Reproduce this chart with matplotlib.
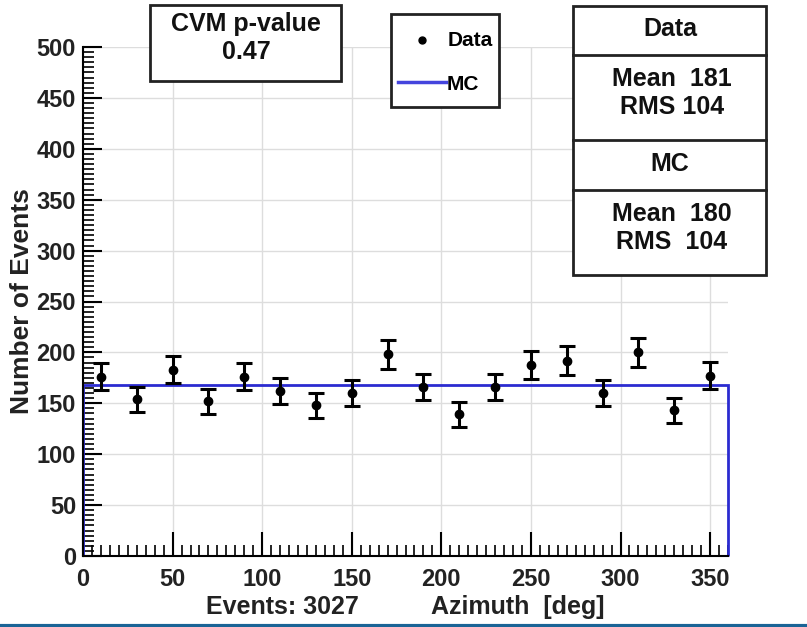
import matplotlib.pyplot as plt
import matplotlib.patches as patches
import numpy as np

plt.rcParams['font.family'] = ['Liberation Sans', 'DejaVu Sans']
plt.rcParams['font.weight'] = 'bold'

bin_edges = np.arange(0, 361, 20)
bin_centers = bin_edges[:-1] + 10
data_counts = [176, 154, 183, 152, 176, 162, 148, 160, 198,
               166, 139, 166, 188, 192, 160, 200, 143, 177]
mc_counts = [168, 168, 168, 168, 168, 168, 168, 168, 168,
             168, 168, 168, 168, 168, 168, 168, 168, 168]
n_events = 3027
cvm_pvalue = 0.47
data_mean, data_rms = 181, 104
mc_mean, mc_rms = 180, 104

W, H = 807, 627
fig = plt.figure(figsize=(W / 100, H / 100), dpi=100)
ax = fig.add_axes([83 / W, 1 - 556 / H, (728 - 83) / W, (556 - 47) / H])

ax.stairs(mc_counts, bin_edges, color='#2b2bd0', lw=2, baseline=0, label='MC',
          zorder=3, clip_on=False)
ax.errorbar(bin_centers, data_counts, yerr=np.sqrt(data_counts), fmt='o', color='black',
            ms=6, elinewidth=2.2, capsize=6, capthick=2.2, zorder=4, label='Data')

ax.set_xlim(0, 360)
ax.set_ylim(0, 500)
ax.set_xticks(np.arange(0, 351, 50))
ax.set_yticks(np.arange(0, 501, 50))
ax.set_xticks(np.arange(0, 361, 5), minor=True)
ax.set_yticks(np.arange(0, 501, 5), minor=True)
ax.grid(True, which='major', color='#dddddd', lw=1)
ax.set_axisbelow(True)
for s in ['top', 'right']:
    ax.spines[s].set_visible(False)
for s in ['left', 'bottom']:
    ax.spines[s].set_linewidth(1.5)
    ax.spines[s].set_zorder(5)
ax.tick_params(which='major', direction='in', length=17, width=1.5, labelsize=17, pad=5)
ax.tick_params(axis='x', which='major', pad=9)
ax.tick_params(which='minor', direction='in', length=8, width=1.2)
ax.tick_params(axis='y', which='major', length=14)
for lab in ax.get_xticklabels() + ax.get_yticklabels():
    lab.set_fontweight('bold')
    lab.set_color('#222222')
ax.set_ylabel('Number of Events', fontsize=19, fontweight='bold', labelpad=2,
              color='#222222')

fig.text(282 / W, 1 - 607 / H, 'Events: %d' % n_events, ha='center', va='center',
         fontsize=18, fontweight='bold', color='#222222')
fig.text(518 / W, 1 - 607 / H, 'Azimuth  [deg]', ha='center', va='center',
         fontsize=18, fontweight='bold', color='#222222')


def box(x0, y0, x1, y1):
    fig.patches.append(patches.Rectangle((x0 / W, 1 - y1 / H), (x1 - x0) / W, (y1 - y0) / H,
                                         transform=fig.transFigure, facecolor='white',
                                         edgecolor='#222222', lw=2, zorder=5))


def txt(x, y, s, size=18):
    fig.text(x / W, 1 - y / H, s, ha='center', va='center', fontsize=size,
             fontweight='bold', color='#111111', zorder=6, linespacing=1.25)


# CVM box
box(150, 5, 341, 81)
txt(246, 38, 'CVM p-value\n%.2f' % cvm_pvalue)

# legend box
box(391, 14, 499, 107)
fig.lines.append(plt.Line2D([422 / W], [1 - 40 / H], marker='o', ms=5, color='black',
                            transform=fig.transFigure, zorder=6))
fig.text(448 / W, 1 - 41 / H, 'Data', ha='left', va='center', fontsize=15,
         fontweight='bold', zorder=6)
fig.lines.append(plt.Line2D([398 / W, 446 / W], [1 - 82 / H, 1 - 82 / H], color='#4444dd',
                            lw=2.5, transform=fig.transFigure, zorder=6))
fig.text(447 / W, 1 - 84 / H, 'MC', ha='left', va='center', fontsize=15,
         fontweight='bold', zorder=6)

# stats box
box(573, 6, 766, 275)
for yy in [55, 140, 190]:
    fig.lines.append(plt.Line2D([573 / W, 766 / W], [1 - yy / H, 1 - yy / H], color='#222222',
                                lw=2, transform=fig.transFigure, zorder=6))
txt(670, 29, 'Data')
txt(672, 93, 'Mean  %d\nRMS %d' % (data_mean, data_rms))
txt(670, 164, 'MC')
txt(672, 228, 'Mean  %d\nRMS  %d' % (mc_mean, mc_rms))

# blue bottom border
fig.lines.append(plt.Line2D([0, 1], [1.5 / H, 1.5 / H], color='#1a6496', lw=3,
                            transform=fig.transFigure))

fig.savefig('out.png', dpi=100)
